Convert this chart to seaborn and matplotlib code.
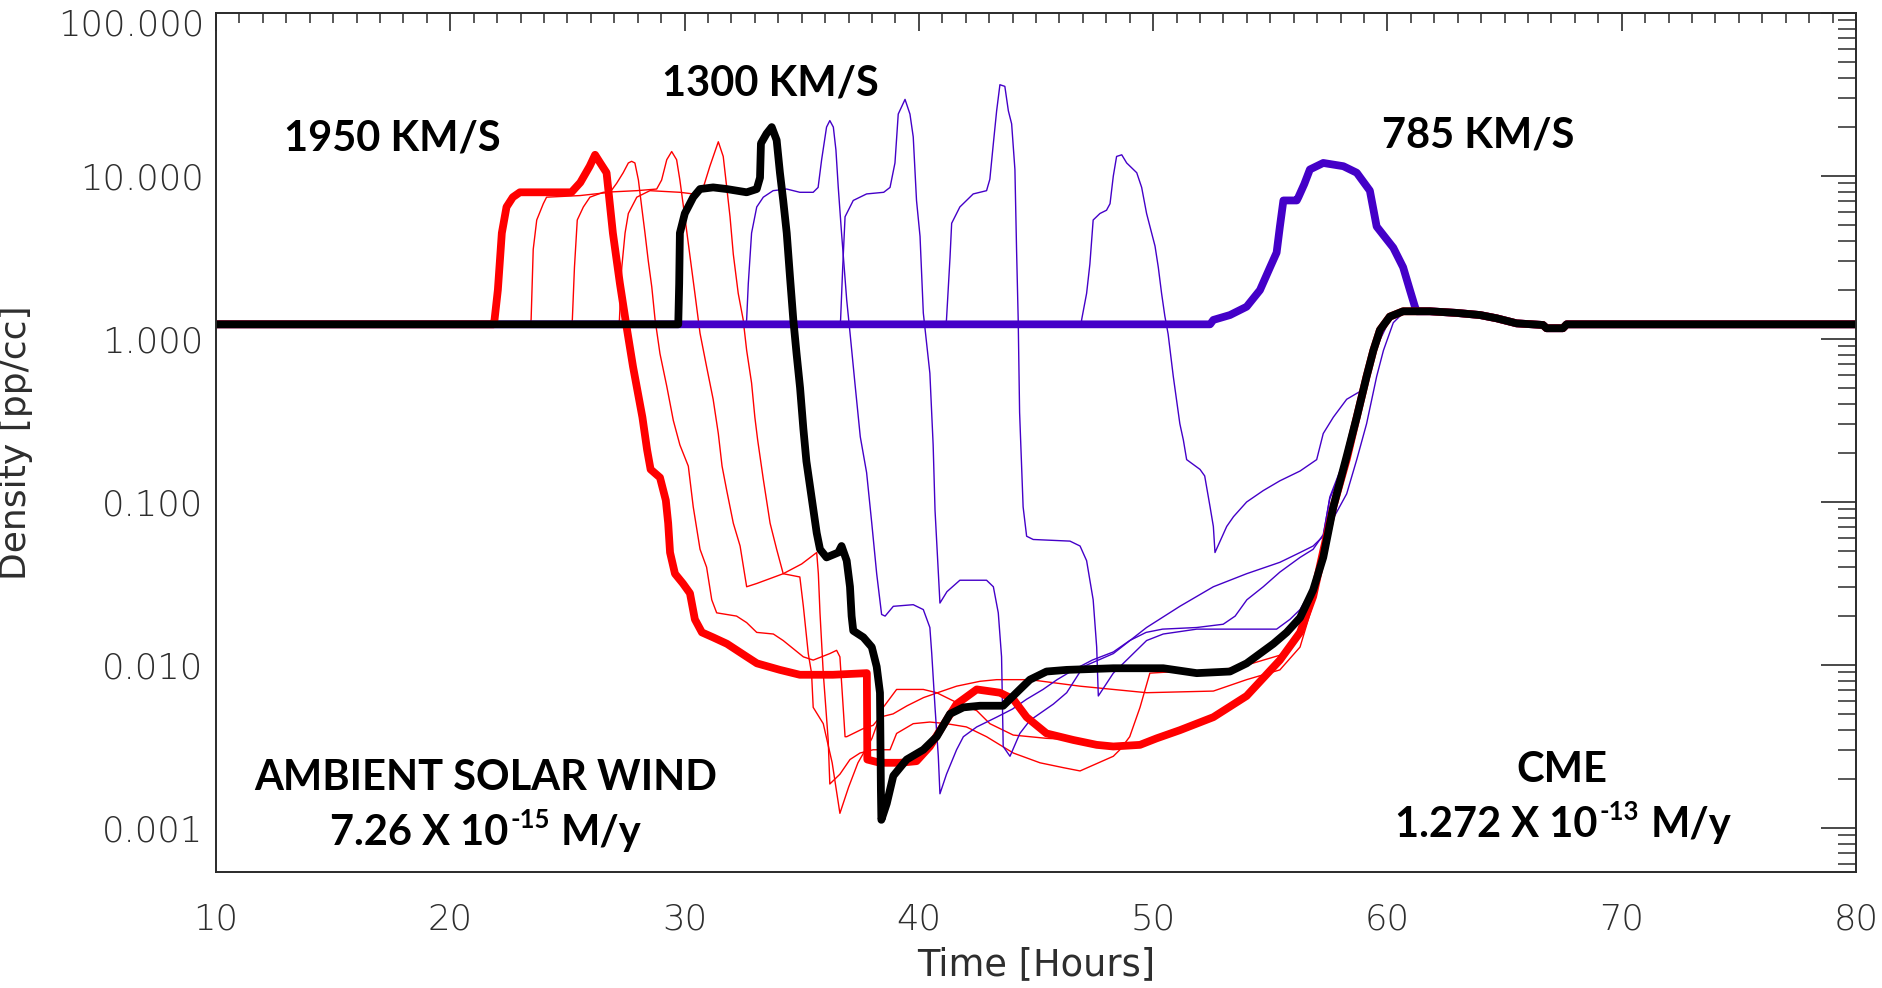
import numpy as np
import pandas as pd
import matplotlib
matplotlib.use("Agg")
import matplotlib.pyplot as plt
from matplotlib.ticker import (FixedLocator, FuncFormatter, LogLocator,
                               MultipleLocator, NullFormatter)
import seaborn as sns

# ---------------------------------------------------------------------------
# Density profiles at 1 AU: (time [hours], log10 density [pp/cc]) per run.
# ---------------------------------------------------------------------------
ambient_tail = [(58.69, -0.48), (59.11, -0.23), (59.4, -0.07), (59.68, 0.055),
                (60.1, 0.137), (60.67, 0.17), (61.81, 0.17), (62.95, 0.16),
                (63.95, 0.147), (64.66, 0.127), (65.51, 0.096), (66.64, 0.086),
                (66.79, 0.066), (67.49, 0.066), (67.65, 0.09), (80.0, 0.09)]

run_1950 = [(10.0, 0.09), (21.85, 0.09), (21.89, 0.12), (22.03, 0.30), (22.2, 0.65),
            (22.4, 0.81), (22.67, 0.87), (22.97, 0.90), (25.17, 0.90), (25.55, 0.96),
            (25.95, 1.06), (26.18, 1.13), (26.4, 1.08), (26.67, 1.02), (26.94, 0.65),
            (27.24, 0.34), (27.53, 0.07), (27.8, -0.17), (28.2, -0.48), (28.4, -0.68),
            (28.55, -0.80), (28.95, -0.85), (29.2, -0.99), (29.3, -1.13), (29.38, -1.31),
            (29.59, -1.44), (29.93, -1.50), (30.23, -1.56), (30.44, -1.72), (30.74, -1.80),
            (31.21, -1.83), (31.81, -1.87), (32.66, -1.95), (33.09, -1.99), (34.07, -2.03),
            (34.92, -2.06), (36.33, -2.06), (37.78, -2.05), (37.8, -2.58), (38.34, -2.60),
            (39.19, -2.60), (39.9, -2.59), (40.47, -2.50), (41.61, -2.24), (42.47, -2.15),
            (43.46, -2.17), (44.03, -2.21), (44.6, -2.32), (45.45, -2.42), (46.59, -2.46),
            (47.59, -2.49), (48.3, -2.50), (49.44, -2.49), (50.15, -2.45), (51.14, -2.40),
            (52.57, -2.32), (53.99, -2.19), (55.41, -1.97), (56.27, -1.80), (56.83, -1.58),
            (57.26, -1.30), (57.69, -1.03), (58.26, -0.74)]

run_1300 = [(10.0, 0.09), (29.73, 0.09), (29.77, 0.34), (29.8, 0.65), (30.01, 0.77),
            (30.37, 0.87), (30.66, 0.92), (31.22, 0.93), (31.8, 0.92), (32.65, 0.90),
            (33.08, 0.92), (33.22, 0.99), (33.26, 1.20), (33.5, 1.26), (33.72, 1.30),
            (33.93, 1.22), (34.07, 1.02), (34.21, 0.85), (34.36, 0.65), (34.5, 0.38),
            (34.64, 0.12), (34.78, -0.09), (34.93, -0.30), (35.07, -0.55), (35.2, -0.75),
            (35.45, -1.00), (35.64, -1.19), (35.78, -1.29), (36.06, -1.34), (36.56, -1.31),
            (36.7, -1.27), (36.92, -1.36), (37.06, -1.52), (37.13, -1.70), (37.2, -1.79),
            (37.63, -1.83), (37.99, -1.89), (38.2, -2.01), (38.34, -2.17), (38.36, -2.46),
            (38.38, -2.77), (38.4, -2.95), (38.63, -2.85), (38.91, -2.68), (39.48, -2.58),
            (40.19, -2.52), (40.76, -2.44), (41.33, -2.30), (41.9, -2.26), (42.61, -2.25),
            (43.6, -2.25), (44.31, -2.15), (44.74, -2.09), (45.45, -2.04), (46.31, -2.03),
            (48.3, -2.02), (50.43, -2.02), (51.86, -2.05), (53.28, -2.04), (53.99, -1.99),
            (55.13, -1.87), (55.7, -1.80), (56.27, -1.71), (56.83, -1.54), (57.26, -1.34),
            (57.69, -1.03), (58.26, -0.72)]

run_785 = [(10.0, 0.09), (52.43, 0.09), (52.57, 0.117), (53.28, 0.147), (53.99, 0.198),
           (54.56, 0.30), (54.99, 0.44), (55.27, 0.53), (55.41, 0.69), (55.56, 0.85),
           (56.13, 0.85), (56.2, 0.87), (56.45, 0.95), (56.69, 1.04), (57.26, 1.08),
           (58.12, 1.06), (58.69, 1.02), (59.25, 0.91), (59.54, 0.69), (60.25, 0.56),
           (60.67, 0.44), (60.96, 0.30), (61.17, 0.20), (61.25, 0.17)]

# intermediate speeds between 1950 and 1300 km/s
red_run_a = [(10.0, 0.09), (23.43, 0.09), (23.45, 0.12), (23.54, 0.55), (23.69, 0.73),
             (23.97, 0.83), (24.11, 0.87), (25.54, 0.88), (26.82, 0.90), (27.1, 0.955),
             (27.38, 1.02), (27.6, 1.08), (27.74, 1.09), (27.88, 1.08), (28.03, 0.975),
             (28.17, 0.81), (28.31, 0.65), (28.45, 0.48), (28.6, 0.32), (28.74, 0.12),
             (28.95, -0.09), (29.24, -0.29), (29.52, -0.50), (29.8, -0.65), (30.16, -0.78),
             (30.37, -1.03), (30.66, -1.29), (30.94, -1.40), (31.16, -1.60), (31.37, -1.68),
             (32.22, -1.70), (32.65, -1.74), (33.08, -1.80), (33.79, -1.81), (34.21, -1.85),
             (34.64, -1.90), (35.07, -1.95), (35.49, -1.97), (36.2, -1.93), (36.49, -1.91),
             (36.63, -1.95), (36.77, -2.26), (36.85, -2.44), (36.92, -2.44), (37.63, -2.39),
             (38.05, -2.37), (38.34, -2.32), (38.9, -2.30), (39.5, -2.25), (40.2, -2.20),
             (41.0, -2.16), (41.61, -2.13), (42.61, -2.10), (43.32, -2.09), (44.74, -2.09),
             (46.88, -2.13), (49.72, -2.17), (52.57, -2.16), (53.99, -2.09), (55.41, -2.03),
             (56.27, -1.89), (56.83, -1.62), (57.26, -1.32), (57.69, -1.04), (58.26, -0.74)]

red_run_b = [(10.0, 0.09), (25.19, 0.09), (25.21, 0.12), (25.3, 0.44), (25.42, 0.73),
             (25.68, 0.81), (25.96, 0.87), (26.53, 0.90), (27.96, 0.91), (28.81, 0.92),
             (29.02, 0.975), (29.24, 1.10), (29.45, 1.15), (29.66, 1.10), (29.8, 0.975),
             (30.01, 0.75), (30.22, 0.52), (30.44, 0.28), (30.66, 0.035), (30.94, -0.17),
             (31.22, -0.37), (31.44, -0.58), (31.6, -0.78), (31.8, -0.93), (32.08, -1.13),
             (32.37, -1.27), (32.65, -1.52), (33.08, -1.50), (34.21, -1.44), (35.0, -1.38),
             (35.64, -1.31), (35.71, -1.44), (35.78, -1.68), (35.92, -2.05), (36.13, -2.46),
             (36.2, -2.73), (36.63, -2.67), (37.06, -2.58), (37.49, -2.54), (38.05, -2.52),
             (38.77, -2.52), (39.05, -2.42), (39.76, -2.36), (40.47, -2.35), (41.18, -2.36),
             (42.03, -2.38), (42.89, -2.44), (44.03, -2.54), (45.17, -2.60), (46.17, -2.63),
             (46.88, -2.65), (48.3, -2.56), (48.58, -2.52), (49.0, -2.44), (49.44, -2.26),
             (49.86, -2.05), (51.0, -2.04), (52.57, -2.04), (54.0, -2.00), (55.41, -1.94),
             (56.27, -1.82), (56.83, -1.60), (57.26, -1.31), (57.69, -1.04), (58.26, -0.74)]

red_run_c = [(10.0, 0.09), (27.2, 0.09), (27.22, 0.12), (27.32, 0.44), (27.46, 0.65),
             (27.6, 0.77), (27.96, 0.87), (28.52, 0.91), (29.8, 0.90), (30.37, 0.89),
             (30.8, 0.93), (31.08, 1.06), (31.44, 1.21), (31.65, 1.12), (31.8, 0.93),
             (31.94, 0.75), (32.08, 0.52), (32.29, 0.28), (32.5, 0.12), (32.65, -0.07),
             (32.86, -0.27), (33.0, -0.48), (33.12, -0.62), (33.36, -0.86), (33.65, -1.13),
             (33.93, -1.29), (34.21, -1.44), (34.92, -1.46), (35.07, -1.64), (35.28, -1.93),
             (35.42, -2.05), (35.49, -2.26), (35.92, -2.36), (36.3, -2.60), (36.63, -2.91),
             (37.0, -2.75), (37.4, -2.60), (38.0, -2.45), (38.48, -2.26), (39.05, -2.15),
             (40.19, -2.15), (40.76, -2.17), (41.75, -2.24), (42.47, -2.28), (43.03, -2.36),
             (44.03, -2.43), (45.45, -2.45), (46.88, -2.46), (48.3, -2.50), (49.44, -2.49),
             (50.15, -2.45), (51.14, -2.40), (52.57, -2.32), (53.99, -2.19), (55.41, -1.97),
             (56.27, -1.79), (56.83, -1.58), (57.26, -1.30), (57.69, -1.03), (58.26, -0.74)]

# intermediate speeds between 1300 and 785 km/s
purple_run_a = [(10.0, 0.09), (32.63, 0.09), (32.65, 0.12), (32.72, 0.34), (32.86, 0.65),
                (33.08, 0.81), (33.36, 0.87), (33.78, 0.91), (34.36, 0.92), (34.92, 0.90),
                (35.49, 0.90), (35.7, 0.93), (35.85, 1.10), (36.06, 1.30), (36.2, 1.34),
                (36.35, 1.30), (36.46, 1.16), (36.56, 0.93), (36.7, 0.65), (36.92, 0.24),
                (37.06, 0.04), (37.27, -0.27), (37.5, -0.60), (37.77, -0.82), (37.99, -1.13),
                (38.2, -1.44), (38.41, -1.69), (38.56, -1.70), (38.91, -1.64), (39.76, -1.63),
                (40.19, -1.66), (40.47, -1.77), (40.55, -1.93), (40.69, -2.26), (40.83, -2.56),
                (40.9, -2.79), (41.18, -2.67), (41.61, -2.52), (41.9, -2.44), (42.47, -2.38),
                (43.32, -2.32), (44.0, -2.27), (44.6, -2.21), (45.3, -2.15), (45.9, -2.09),
                (46.6, -2.03), (47.4, -1.97), (48.3, -1.92), (49.0, -1.85), (49.7, -1.80),
                (50.4, -1.78), (51.86, -1.77), (52.99, -1.75), (53.5, -1.70), (54.0, -1.60),
                (54.7, -1.52), (55.41, -1.43), (56.27, -1.34), (56.83, -1.29), (57.26, -1.20),
                (57.54, -0.98), (58.0, -0.82), (58.26, -0.72)]

purple_run_b = [(10.0, 0.09), (36.64, 0.09), (36.66, 0.12), (36.75, 0.44), (36.85, 0.75),
                (37.2, 0.85), (37.77, 0.89), (38.5, 0.90), (38.77, 0.93), (38.98, 1.08),
                (39.12, 1.38), (39.41, 1.47), (39.62, 1.38), (39.76, 1.24), (39.9, 0.85),
                (40.05, 0.63), (40.19, 0.16), (40.47, -0.21), (40.61, -0.65), (40.69, -1.05),
                (40.9, -1.62), (41.2, -1.55), (41.75, -1.48), (42.89, -1.48), (43.18, -1.52),
                (43.39, -1.68), (43.53, -1.95), (43.6, -2.50), (43.89, -2.56), (44.31, -2.42),
                (44.74, -2.34), (45.74, -2.24), (46.31, -2.17), (47.02, -2.01), (48.3, -1.93),
                (49.72, -1.77), (51.14, -1.64), (52.57, -1.52), (53.99, -1.44), (55.41, -1.37),
                (56.27, -1.31), (56.83, -1.27), (57.26, -1.21), (57.54, -0.97), (58.0, -0.80),
                (58.26, -0.72)]

purple_run_c = [(10.0, 0.09), (41.16, 0.09), (41.18, 0.12), (41.33, 0.50), (41.4, 0.71),
                (41.75, 0.81), (42.32, 0.89), (42.89, 0.91), (43.03, 0.98), (43.18, 1.20),
                (43.32, 1.40), (43.46, 1.56), (43.67, 1.55), (43.82, 1.40), (43.96, 1.32),
                (44.1, 1.04), (44.17, 0.55), (44.24, 0.12), (44.3, -0.45), (44.45, -1.03),
                (44.6, -1.21), (44.88, -1.23), (46.45, -1.24), (46.88, -1.27), (47.16, -1.36),
                (47.44, -1.60), (47.59, -1.89), (47.66, -2.19), (48.3, -2.05), (49.01, -1.95),
                (49.72, -1.85), (50.43, -1.81), (51.86, -1.78), (55.27, -1.78), (55.84, -1.72),
                (56.27, -1.66), (56.83, -1.52), (57.26, -1.33), (57.69, -1.10), (58.26, -0.95),
                (58.69, -0.74), (59.11, -0.52), (59.54, -0.23), (59.83, -0.07), (60.25, 0.10),
                (60.67, 0.16)]

purple_run_d = [(10.0, 0.09), (46.93, 0.09), (46.95, 0.12), (47.16, 0.28), (47.3, 0.46),
                (47.44, 0.73), (47.73, 0.77), (48.01, 0.79), (48.16, 0.83), (48.3, 1.00),
                (48.44, 1.12), (48.66, 1.13), (48.87, 1.08), (49.3, 1.02), (49.51, 0.93),
                (49.72, 0.77), (50.08, 0.57), (50.22, 0.44), (50.36, 0.28), (50.5, 0.14),
                (50.64, 0.03), (50.86, -0.23), (51.14, -0.52), (51.29, -0.62), (51.43, -0.74),
                (52.0, -0.80), (52.2, -0.84), (52.43, -1.03), (52.57, -1.15), (52.64, -1.31),
                (53.14, -1.15), (53.43, -1.09), (53.99, -1.00), (54.7, -0.93), (55.41, -0.87),
                (56.27, -0.81), (56.98, -0.74), (57.26, -0.58), (57.69, -0.48), (58.26, -0.37),
                (58.97, -0.31), (59.25, -0.17), (59.68, -0.006), (60.1, 0.12), (60.67, 0.17)]

# y-axis tick values and axis ranges
density_ticks = [0.001, 0.01, 0.1, 1.0, 10.0, 100.0]
hour_range = (10, 80)
density_range = (10 ** -3.27, 100.0)

RED = "#ff0000"
PURPLE = "#4400c8"
BLACK = "#000000"

# (name, points, colour, line width); drawn in this order
runs = [
    ("red_a", red_run_a, RED, 1.0),
    ("red_b", red_run_b, RED, 1.0),
    ("red_c", red_run_c, RED, 1.0),
    ("purple_a", purple_run_a, PURPLE, 1.0),
    ("purple_b", purple_run_b, PURPLE, 1.0),
    ("purple_c", purple_run_c, PURPLE, 1.0),
    ("purple_d", purple_run_d, PURPLE, 1.0),
    ("785", run_785, PURPLE, 5.6),
    ("1950", run_1950, RED, 5.6),
    ("1300", run_1300, BLACK, 5.6),
]


def with_tail(points):
    """Continue a run with the shared post-event ambient profile."""
    last = points[-1][0]
    return points + [p for p in ambient_tail if p[0] > last + 0.3]


frames = []
for order, (name, pts, _, _) in enumerate(runs):
    full = with_tail(pts)
    frames.append(pd.DataFrame({
        "run": name,
        "order": order,
        "hours": [p[0] for p in full],
        "density": [10.0 ** p[1] for p in full],
    }))
profiles = pd.concat(frames, ignore_index=True)

# ---------------------------------------------------------------------------
sns.set_style("white")
plt.rcParams["font.family"] = ["DejaVu Sans"]
plt.rcParams["font.weight"] = "light"

W, H = 1882, 988
fig = plt.figure(figsize=(W / 100, H / 100), dpi=100)
fig.patch.set_facecolor("white")
ax = fig.add_axes([216 / W, 1 - 872 / H, (1856 - 216) / W, (872 - 13) / H])

for name, _, color, lw in runs:
    sub = profiles[profiles["run"] == name]
    sns.lineplot(data=sub, x="hours", y="density", ax=ax, color=color,
                 linewidth=lw, sort=False, estimator=None, legend=False,
                 solid_capstyle="butt")

ax.set_yscale("log")
ax.set_xlim(*hour_range)
ax.set_ylim(*density_range)

tick_col = "#2a2a2a"
label_col = "#2e2e2e"
tick_size = 25.5


def density_label(v, _):
    # the top label is placed separately, just under the frame
    return "" if v >= 100 else f"{v:.3f}"


ax.xaxis.set_major_locator(MultipleLocator(10))
ax.xaxis.set_minor_locator(MultipleLocator(1))
ax.yaxis.set_major_locator(FixedLocator(density_ticks))
ax.yaxis.set_major_formatter(FuncFormatter(density_label))
ax.yaxis.set_minor_locator(LogLocator(base=10, subs=np.arange(2, 10)))
ax.yaxis.set_minor_formatter(NullFormatter())

ax.tick_params(axis="x", which="major", direction="in", top=True, length=13,
               width=1.2, color=tick_col, pad=22, labelsize=tick_size,
               labelcolor=label_col)
ax.tick_params(axis="x", which="minor", direction="in", top=True, length=7,
               width=1.1, color=tick_col)
ax.tick_params(axis="y", which="major", direction="in", right=True, length=25,
               width=1.2, color=tick_col, pad=9, labelsize=tick_size,
               labelcolor=label_col)
ax.tick_params(axis="y", which="minor", direction="in", right=True, length=13,
               width=1.1, color=tick_col)
for sp in ax.spines.values():
    sp.set_color(tick_col)
    sp.set_linewidth(1.4)

ax.set_xlabel("Time [Hours]", fontsize=26.5, color=label_col)
ax.xaxis.set_label_coords(0.5, -0.086)
ax.set_ylabel("Density [pp/cc]", fontsize=26, color=label_col)
ax.yaxis.set_label_coords(-0.1116, 0.5)


def fig_xy(px, py):
    return px / W, 1 - py / H


fig.text(*fig_xy(204, 25), f"{density_ticks[-1]:.3f}", ha="right", va="center",
         fontsize=tick_size, color=label_col)

bold = dict(family=["Lato", "DejaVu Sans"], fontweight="bold", color="black")
big, small = 30, 18.5

for label, cx, base in [("1950 KM/S", 392, 150), ("1300 KM/S", 770, 95),
                        ("785 KM/S", 1478, 148), ("AMBIENT SOLAR WIND", 486, 790),
                        ("CME", 1562, 782)]:
    fig.text(*fig_xy(cx, base), label, ha="center", va="baseline",
             fontsize=big, **bold)

renderer = fig.canvas.get_renderer()


def rate_label(cx, base, lead, exponent, unit):
    """Write 'lead' + raised 'exponent' + 'unit', centred on cx."""
    pieces = [
        fig.text(0, 0, lead, ha="left", va="baseline", fontsize=big, **bold),
        fig.text(0, 0, exponent, ha="left", va="baseline", fontsize=small, **bold),
        fig.text(0, 0, unit, ha="left", va="baseline", fontsize=big, **bold),
    ]
    widths = [p.get_window_extent(renderer).width for p in pieces]
    gaps = [2, 11]
    total = sum(widths) + sum(gaps)
    x = cx - total / 2
    lifts = [0, 17, 0]
    for i, p in enumerate(pieces):
        p.set_position(fig_xy(x, base - lifts[i]))
        x += widths[i] + (gaps[i] if i < 2 else 0)


rate_label(486, 845, "7.26 X 10", "-15", "M/y")
rate_label(1563, 837, "1.272 X 10", "-13", "M/y")

fig.savefig("out.png", dpi=100, facecolor="white")
